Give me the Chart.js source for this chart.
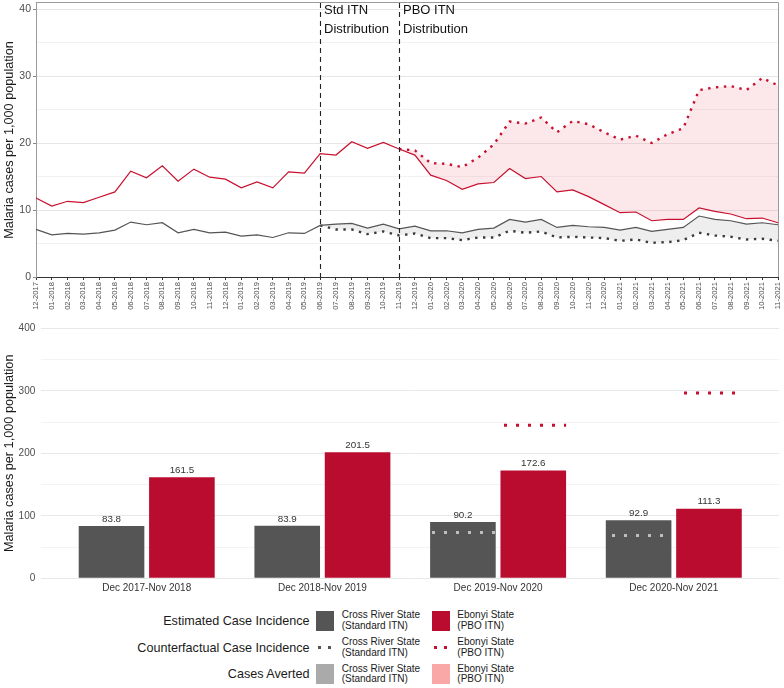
<!DOCTYPE html>
<html>
<head>
<meta charset="utf-8">
<script src="https://cdn.jsdelivr.net/npm/chart.js@4.4.1/dist/chart.umd.min.js"></script>
<style>
  html, body { margin: 0; padding: 0; background: #fff; }
  body { width: 784px; height: 688px; position: relative; overflow: hidden; font-family: 'Liberation Sans', Arial, sans-serif; }
  canvas { position: absolute; left: 0; }
  #top { top: 0; }
  #bottom { top: 310px; }
  .lg { position: absolute; white-space: nowrap; }
  .lg-title { right: 474.5px; font-size: 12.6px; color: #1a1a1a; transform: translateY(-50%); }
  .lg-text { font-size: 10px; line-height: 10.5px; color: #1a1a1a; }
</style>
</head>
<body>
<canvas id="top" width="784" height="310"></canvas>
<canvas id="bottom" width="784" height="290"></canvas>
<div id="legend"></div>
<script>
// --- datos mensuales (casos por 1,000 hab.) ---
const months = [
  '12-2017', '01-2018', '02-2018', '03-2018', '04-2018', '05-2018', '06-2018', '07-2018',
  '08-2018', '09-2018', '10-2018', '11-2018', '12-2018', '01-2019', '02-2019', '03-2019',
  '04-2019', '05-2019', '06-2019', '07-2019', '08-2019', '09-2019', '10-2019', '11-2019',
  '12-2019', '01-2020', '02-2020', '03-2020', '04-2020', '05-2020', '06-2020', '07-2020',
  '08-2020', '09-2020', '10-2020', '11-2020', '12-2020', '01-2021', '02-2021', '03-2021',
  '04-2021', '05-2021', '06-2021', '07-2021', '08-2021', '09-2021', '10-2021', '11-2021',
];
const ebonyiEst = [
  11.8, 10.6, 11.3, 11.1, 11.9, 12.7, 15.8, 14.8, 16.6, 14.3, 16.1, 14.9,
  14.6, 13.3, 14.2, 13.3, 15.7, 15.5, 18.4, 18.2, 20.2, 19.2, 20.1, 19.1,
  18.2, 15.2, 14.4, 13.1, 13.9, 14.1, 16.2, 14.7, 15.0, 12.7, 13.0, 12.0,
  10.8, 9.6, 9.7, 8.4, 8.6, 8.6, 10.3, 9.8, 9.4, 8.7, 8.8, 8.1,
];
const crossEst = [
  7.1, 6.3, 6.5, 6.4, 6.6, 7.0, 8.2, 7.8, 8.1, 6.6, 7.1, 6.6,
  6.7, 6.1, 6.3, 5.9, 6.6, 6.5, 7.7, 7.9, 8.0, 7.3, 7.9, 7.2,
  7.6, 6.9, 6.9, 6.6, 7.1, 7.3, 8.6, 8.2, 8.6, 7.4, 7.7, 7.5,
  7.4, 7.0, 7.4, 6.8, 7.1, 7.4, 9.1, 8.6, 8.4, 7.9, 8.1, 7.8,
];
const ebonyiCf = [
  null, null, null, null, null, null, null, null, null, null, null, null,
  null, null, null, null, null, null, null, null, null, null, null, 19.1,
  18.9, 17.0, 16.9, 16.4, 17.8, 19.8, 23.2, 22.9, 23.8, 21.6, 23.3, 22.8,
  21.6, 20.5, 21.1, 20.0, 21.3, 22.2, 27.9, 28.3, 28.5, 27.9, 29.7, 28.6,
];
const crossCf = [
  null, null, null, null, null, null, null, null, null, null, null, null,
  null, null, null, null, null, null, 7.7, 7.1, 7.1, 6.4, 6.8, 6.2,
  6.5, 5.8, 5.8, 5.5, 5.9, 5.9, 6.9, 6.6, 6.8, 5.9, 6.0, 5.9,
  5.8, 5.4, 5.6, 5.1, 5.2, 5.5, 6.6, 6.2, 6.0, 5.6, 5.7, 5.4,
];
const topYTicks = [0, 10, 20, 30, 40];
const eventMonths = ['06-2019', '11-2019'];
const eventLabels = [['Std ITN', 'Distribution'], ['PBO ITN', 'Distribution']];

// --- datos anuales ---
const periods = ['Dec 2017-Nov 2018', 'Dec 2018-Nov 2019', 'Dec 2019-Nov 2020', 'Dec 2020-Nov 2021'];
const crossAnnual = [83.8, 83.9, 90.2, 92.9];
const ebonyiAnnual = [161.5, 201.5, 172.6, 111.3];
const crossAnnualCf = [null, null, 73.4, 68.6];
const ebonyiAnnualCf = [null, null, 244.8, 296.5];
const bottomYTicks = [0, 100, 200, 300, 400];

const legendRows = ['Estimated Case Incidence', 'Counterfactual Case Incidence', 'Cases Averted'];
const legendStates = [['Cross River State', '(Standard ITN)'], ['Ebonyi State', '(PBO ITN)']];

const RED = '#c8102e', RED_BAR = '#ba0c2f', GREY = '#555555';
const FONT = "'Liberation Sans', Arial, sans-serif";
Chart.defaults.font.family = FONT;

const withMinor = (ticks) => ticks.flatMap((v, i) => i < ticks.length - 1 ? [v, (v + ticks[i + 1]) / 2] : [v]);

// patrón de puntos para las líneas punteadas de las barras
function dots(color) {
  const c = document.createElement('canvas');
  c.width = 12; c.height = 1;
  const g = c.getContext('2d');
  g.fillStyle = color;
  g.fillRect(0, 0, 3, 1);
  return g.createPattern(c, 'repeat');
}

const eventsPlugin = {
  id: 'events',
  afterDatasetsDraw(chart) {
    const { ctx, chartArea: a, scales: { x } } = chart;
    ctx.save();
    eventMonths.forEach((m, i) => {
      const px = Math.round(x.getPixelForValue(months.indexOf(m))) + 0.5;
      ctx.strokeStyle = '#222'; ctx.lineWidth = 1.1; ctx.setLineDash([5, 4]);
      ctx.beginPath(); ctx.moveTo(px, a.top); ctx.lineTo(px, a.bottom); ctx.stroke();
      ctx.setLineDash([]);
      ctx.fillStyle = '#111'; ctx.font = `13px ${FONT}`; ctx.textBaseline = 'middle'; ctx.textAlign = 'left';
      eventLabels[i].forEach((t, k) => ctx.fillText(t, px + 3.5, a.top + 7.5 + k * 18.5));
    });
    ctx.restore();
  },
  afterDraw(chart) {
    const { ctx, chartArea: a } = chart;
    ctx.save();
    ctx.strokeStyle = '#9a9a9a'; ctx.lineWidth = 1;
    ctx.beginPath();
    ctx.moveTo(a.left, a.top - 0.5); ctx.lineTo(a.right + 0.5, a.top - 0.5); ctx.lineTo(a.right + 0.5, a.bottom);
    ctx.stroke();
    ctx.restore();
  },
};

new Chart(document.getElementById('top'), {
  type: 'line',
  data: {
    labels: months,
    datasets: [
      { label: 'Ebonyi State (PBO ITN)', data: ebonyiEst, borderColor: RED, borderWidth: 1.2, pointRadius: 0 },
      { label: 'Cross River State (Standard ITN)', data: crossEst, borderColor: GREY, borderWidth: 1.2, pointRadius: 0 },
      { label: 'Ebonyi counterfactual', data: ebonyiCf, borderColor: RED, borderWidth: 2.4, borderDash: [2.4, 5.5],
        borderCapStyle: 'butt', pointRadius: 0,
        fill: { target: 0, above: 'rgba(240,140,155,0.2)', below: 'rgba(240,140,155,0.2)' } },
      { label: 'Cross River counterfactual', data: crossCf, borderColor: '#3a3a3a', borderWidth: 2.4, borderDash: [2.4, 5.5],
        borderCapStyle: 'butt', pointRadius: 0,
        fill: { target: 1, above: 'rgba(150,150,150,0.16)', below: 'rgba(150,150,150,0.16)' } },
    ],
  },
  options: {
    responsive: false, animation: false,
    layout: { padding: { top: 3, right: 6, left: 0, bottom: 0 } },
    plugins: { legend: { display: false }, tooltip: { enabled: false } },
    scales: {
      x: {
        grid: { display: true, drawOnChartArea: false, drawTicks: true, tickLength: 3, color: '#333', tickColor: '#333' },
        border: { color: '#333' },
        ticks: { autoSkip: false, maxRotation: 90, minRotation: 90, padding: 2, font: { size: 7.6 }, color: '#4d4d4d' },
        afterFit: (s) => { s.height = 33; s.paddingLeft = 0; s.paddingRight = 0; },
      },
      y: {
        min: 0, max: 40.9,
        afterBuildTicks: (s) => { s.ticks = withMinor(topYTicks).map((v) => ({ value: v })); },
        grid: {
          color: (c) => topYTicks.includes(c.tick.value) ? '#e6e6e6' : '#f2f2f2',
          tickColor: (c) => topYTicks.includes(c.tick.value) ? '#888' : 'rgba(0,0,0,0)',
          tickLength: 3,
        },
        border: { color: '#9a9a9a' },
        ticks: { callback: (v) => topYTicks.includes(v) ? v : '', padding: 2, font: { size: 10.5 }, color: '#4d4d4d' },
        title: { display: true, text: 'Malaria cases per 1,000 population', font: { size: 12.7 }, color: '#1a1a1a', padding: { top: 2, bottom: 0 } },
        afterFit: (s) => { s.width = 36; s.paddingTop = 0; s.paddingBottom = 0; },
      },
    },
  },
  plugins: [eventsPlugin],
});

const barLabels = {
  id: 'barLabels',
  afterDatasetsDraw(chart) {
    const { ctx } = chart;
    ctx.save();
    ctx.fillStyle = '#333'; ctx.font = `9.8px ${FONT}`; ctx.textAlign = 'center'; ctx.textBaseline = 'middle';
    [crossAnnual, ebonyiAnnual].forEach((vals, di) => {
      chart.getDatasetMeta(di).data.forEach((el, j) => ctx.fillText(vals[j].toFixed(1), el.x, el.y - 7));
    });
    ctx.restore();
  },
};

const cfBar = (vals) => vals.map((v, i) => v == null ? null : { x: i + 1, y: [v - 2.4, v + 2.4] }).filter(Boolean);

new Chart(document.getElementById('bottom'), {
  type: 'bar',
  data: {
    datasets: [
      { label: 'Cross River State (Standard ITN)', stack: 'cr', order: 1, backgroundColor: GREY,
        data: crossAnnual.map((v, i) => ({ x: i + 1, y: v })) },
      { label: 'Ebonyi State (PBO ITN)', stack: 'eb', order: 1, backgroundColor: RED_BAR,
        data: ebonyiAnnual.map((v, i) => ({ x: i + 1, y: v })) },
      { label: 'Cross River counterfactual', stack: 'cr', order: 0, backgroundColor: dots('#bdbdbd'), data: cfBar(crossAnnualCf) },
      { label: 'Ebonyi counterfactual', stack: 'eb', order: 0, backgroundColor: dots(RED), data: cfBar(ebonyiAnnualCf) },
    ],
  },
  options: {
    responsive: false, animation: false,
    datasets: { bar: { categoryPercentage: 0.801, barPercentage: 0.9325 } },
    layout: { padding: { top: 18.3, right: 4.8, left: 0, bottom: 0 } },
    plugins: { legend: { display: false }, tooltip: { enabled: false } },
    scales: {
      x: {
        type: 'linear', min: 0.4, max: 4.6, offset: false,
        afterBuildTicks: (s) => { s.ticks = periods.map((p, i) => ({ value: i + 1 })); },
        grid: { display: false, drawTicks: false },
        border: { display: false },
        ticks: { callback: (v) => periods[v - 1] ?? '', padding: 4, font: { size: 10 }, color: '#333', maxRotation: 0 },
        afterFit: (s) => { s.height = 21.7; s.paddingLeft = 0; s.paddingRight = 0; },
      },
      y: {
        min: 0, max: 400, stacked: false,
        afterBuildTicks: (s) => { s.ticks = withMinor(bottomYTicks).map((v) => ({ value: v })); },
        grid: { color: (c) => bottomYTicks.includes(c.tick.value) ? '#e8e8e8' : '#f3f3f3', drawTicks: false },
        border: { display: false },
        ticks: { callback: (v) => bottomYTicks.includes(v) ? v : '', padding: 6, font: { size: 10 }, color: '#4d4d4d' },
        title: { display: true, text: 'Malaria cases per 1,000 population', font: { size: 12.7 }, color: '#1a1a1a', padding: { top: 2, bottom: 0 } },
        afterFit: (s) => { s.width = 41.3; s.paddingTop = 0; s.paddingBottom = 0; },
      },
    },
  },
  plugins: [barLabels],
});

// --- leyenda ---
const rowY = [620.5, 647.5, 674];
const swatchX = [316, 432.3], textX = [341.7, 457.3];
const fills = [[GREY, RED_BAR], null, ['#aaaaaa', '#f9a7a7']];
const dotColors = ['#555555', RED];
const lg = document.getElementById('legend');
const add = (cls, css, html = '') => {
  const d = document.createElement('div');
  d.className = 'lg ' + cls; d.style.cssText = css; d.innerHTML = html; lg.appendChild(d);
};
legendRows.forEach((t, r) => {
  const cy = rowY[r];
  add('lg-title', `top:${cy}px`, t);
  legendStates.forEach((st, k) => {
    if (fills[r]) add('', `left:${swatchX[k]}px;top:${cy - 10}px;width:18px;height:20px;background:${fills[r][k]}`);
    else [2, 12].forEach((dx) => add('', `left:${swatchX[k] + dx}px;top:${cy - 1.3}px;width:2.6px;height:2.6px;background:${dotColors[k]}`));
    add('lg-text', `left:${textX[k]}px;top:${cy - 10.5}px`, st.join('<br>'));
  });
});
</script>
</body>
</html>
